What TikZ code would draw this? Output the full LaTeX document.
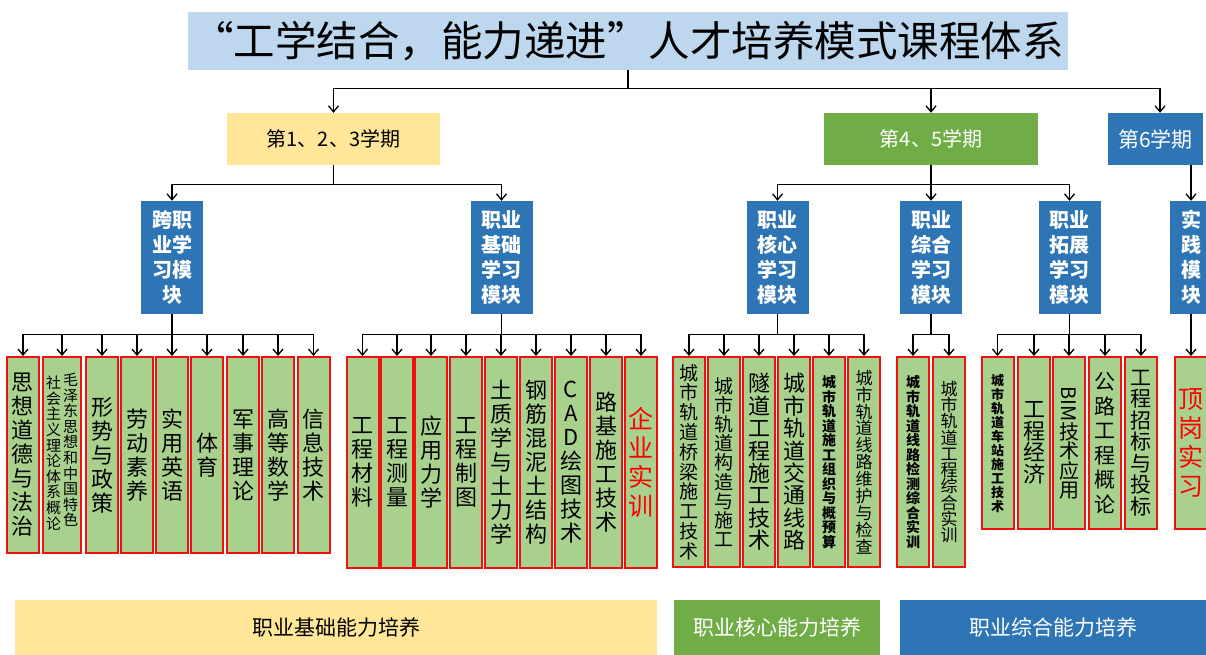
\documentclass[tikz,border=0pt]{standalone}
\usepackage{fontspec}
\setmainfont{Noto Sans CJK SC}
\usetikzlibrary{arrows.meta}
\definecolor{titleblue}{HTML}{BDD7EE}
\definecolor{semyellow}{HTML}{FFE699}
\definecolor{semgreen}{HTML}{70AD47}
\definecolor{modblue}{HTML}{2E75B6}
\definecolor{leafgreen}{HTML}{A9D18E}
\definecolor{leafred}{HTML}{F01010}
\tikzset{
  arr/.style={-{Straight Barb[length=6pt,width=10pt]}, line width=1.3pt},
  ln/.style={line width=1.3pt},
  leaf/.style={draw=leafred, line width=2pt, fill=leafgreen, inner sep=0pt, align=center, minimum width=32pt, font=\fontsize{22}{24}\selectfont},
  modbox/.style={fill=modblue, text=white, inner sep=0pt, align=center, minimum width=62pt, minimum height=113pt, font=\fontsize{20}{25}\selectfont\bfseries},
  sembox/.style={inner sep=0pt, minimum height=52pt, font=\fontsize{20}{24}\selectfont},
  band/.style={inner sep=0pt, minimum height=55pt, font=\fontsize{21}{24}\selectfont},
  redtxt/.style={text=red, font=\fontsize{25}{29}\selectfont}
}
\begin{document}
\begin{tikzpicture}[x=1pt,y=-1pt]
\useasboundingbox (0,0) rectangle (1206,655);
% title
\node[fill=titleblue, minimum width=880pt, minimum height=58pt, inner sep=0pt, font=\fontsize{41.5}{44}\selectfont] (title) at (628,41) {“工学结合，能力递进”人才培养模式课程体系};
% semesters
\node[sembox, fill=semyellow, minimum width=213pt] (s1) at (333.5,139) {第1、2、3学期};
\node[sembox, fill=semgreen, text=white, minimum width=214pt] (s2) at (931,139) {第4、5学期};
\node[sembox, fill=modblue, text=white, minimum width=95pt, font=\fontsize{21}{24}\selectfont] (s3) at (1155.5,139) {第6学期};
\draw[arr] (title.south) -- ++(0,18) -| (s1.north);
\draw[arr] (title.south) -- ++(0,18) -| (s2.north);
\draw[arr] (title.south) -- ++(0,18) -| ([xshift=4.5pt]s3.north);
% modules
\node[modbox] (m1) at (172,257.5) {跨职\\业学\\习模\\块};
\node[modbox] (m2) at (501.5,257.5) {职业\\基础\\学习\\模块};
\node[modbox] (m3) at (777.5,257.5) {职业\\核心\\学习\\模块};
\node[modbox] (m4) at (931,257.5) {职业\\综合\\学习\\模块};
\node[modbox] (m5) at (1069.5,257.5) {职业\\拓展\\学习\\模块};
\node[modbox, minimum width=42pt] (m6) at (1191,257.5) {实\\践\\模\\块};
\draw[arr] (s1.south) -- ++(0,19) -| (m1.north);
\draw[arr] (s1.south) -- ++(0,19) -| (m2.north);
\draw[arr] (s2.south) -- ++(0,19) -| (m3.north);
\draw[arr] (s2.south) -- ++(0,19) -| (m4.north);
\draw[arr] (s2.south) -- ++(0,19) -| (m5.north);
\draw[arr] (s3.south -| m6.north) -- (m6.north);
% leaves group 1
\begin{scope}[every node/.append style={minimum height=196pt}]
\node[leaf] (l1) at (23,455) {思\\想\\道\\德\\与\\法\\治};
\node[leaf, minimum width=38pt] (l2) at (62,455) {};
\node[leaf] (l3) at (102,455) {形\\势\\与\\政\\策};
\node[leaf] (l4) at (137,455) {劳\\动\\素\\养};
\node[leaf] (l5) at (172,455) {实\\用\\英\\语};
\node[leaf] (l6) at (207,455) {体\\育};
\node[leaf] (l7) at (243,455) {军\\事\\理\\论};
\node[leaf] (l8) at (278,455) {高\\等\\数\\学};
\node[leaf] (l9) at (313.5,455) {信\\息\\技\\术};
\end{scope}
\node[align=center, inner sep=0pt, font=\fontsize{15}{15.6}\selectfont] (l2a) at (70.5,450) {毛\\泽\\东\\思\\想\\和\\中\\国\\特\\色};
\node[align=center, inner sep=0pt, font=\fontsize{15}{15.6}\selectfont] (l2b) at (53.5,453) {社\\会\\主\\义\\理\\论\\体\\系\\概\\论};
\foreach \n in {l1,l2,l3,l4,l5,l6,l7,l8,l9}
  \draw[arr] (m1.south) -- ++(0,20) -| (\n.north);
% leaves group 2
\begin{scope}[every node/.append style={minimum height=211pt}]
\node[leaf] (b1) at (362.5,462.5) {工\\程\\材\\料};
\node[leaf] (b2) at (397,462.5) {工\\程\\测\\量};
\node[leaf] (b3) at (431,462.5) {应\\用\\力\\学};
\node[leaf] (b4) at (466,462.5) {工\\程\\制\\图};
\node[leaf] (b5) at (501,462.5) {土\\质\\学\\与\\土\\力\\学};
\node[leaf] (b6) at (536,462.5) {钢\\筋\\混\\泥\\土\\结\\构};
\node[leaf] (b7) at (571,462.5) {C\\A\\D\\绘\\图\\技\\术};
\node[leaf] (b8) at (606,462.5) {路\\基\\施\\工\\技\\术};
\node[leaf, redtxt] (b9) at (641,462.5) {企\\业\\实\\训};
\end{scope}
\foreach \n in {b1,b2,b3,b4,b5,b6,b7,b8,b9}
  \draw[arr] (m2.south) -- ++(0,20) -| (\n.north);
% leaves group 3
\begin{scope}[every node/.append style={minimum height=210pt}]
\node[leaf, font=\fontsize{19}{19.8}\selectfont] (c1) at (689,462) {城\\市\\轨\\道\\桥\\梁\\施\\工\\技\\术};
\node[leaf, font=\fontsize{19}{19.2}\selectfont] (c2) at (724,462) {城\\市\\轨\\道\\构\\造\\与\\施\\工};
\node[leaf, font=\fontsize{22}{22.4}\selectfont] (c3) at (759,462) {隧\\道\\工\\程\\施\\工\\技\\术};
\node[leaf, font=\fontsize{22}{22.4}\selectfont] (c4) at (794,462) {城\\市\\轨\\道\\交\\通\\线\\路};
\node[leaf, font=\fontsize{14}{14.5}\selectfont\bfseries] (c5) at (829,462) {城\\市\\轨\\道\\施\\工\\组\\织\\与\\概\\预\\算};
\node[leaf, font=\fontsize{17}{16.9}\selectfont] (c6) at (864,462) {城\\市\\轨\\道\\线\\路\\维\\护\\与\\检\\查};
\node[leaf, font=\fontsize{14}{14.5}\selectfont\bfseries] (d1) at (913,462) {城\\市\\轨\\道\\线\\路\\检\\测\\综\\合\\实\\训};
\node[leaf, font=\fontsize{17}{16.3}\selectfont] (d2) at (949,462) {城\\市\\轨\\道\\工\\程\\综\\合\\实\\训};
\end{scope}
\foreach \n in {c1,c2,c3,c4,c5,c6}
  \draw[arr] (m3.south) -- ++(0,20) -| (\n.north);
\foreach \n in {d1,d2}
  \draw[arr] (m4.south) -- ++(0,20) -| (\n.north);
% leaves group 4
\begin{scope}[every node/.append style={minimum height=172pt}]
\node[leaf, font=\fontsize{13}{14}\selectfont\bfseries] (e1) at (997.5,443) {城\\市\\轨\\道\\车\\站\\施\\工\\技\\术};
\node[leaf, font=\fontsize{22}{21.5}\selectfont] (e2) at (1034,443) {工\\程\\经\\济};
\node[leaf, font=\fontsize{20}{19.5}\selectfont] (e3) at (1069,443) {\rotatebox{-90}{BIM}\\技\\术\\应\\用};
\node[leaf, font=\fontsize{21}{24.5}\selectfont] (e4) at (1105,443) {公\\路\\工\\程\\概\\论};
\node[leaf, font=\fontsize{21}{21.5}\selectfont] (e5) at (1141,443) {工\\程\\招\\标\\与\\投\\标};
\node[leaf, redtxt] (f1) at (1191,443) {顶\\岗\\实\\习};
\end{scope}
\foreach \n in {e1,e2,e3,e4,e5}
  \draw[arr] (m5.south) -- ++(0,20) -| (\n.north);
\draw[arr] (m6.south) -- (f1.north);
% bottom bands
\node[band, fill=semyellow, minimum width=642pt] (band1) at (336,627.5) {职业基础能力培养};
\node[band, fill=semgreen, text=white, minimum width=206pt] (band2) at (777,627.5) {职业核心能力培养};
\node[band, fill=modblue, text=white, minimum width=306pt] (band3) at (1053,627.5) {职业综合能力培养};
\end{tikzpicture}
\end{document}
